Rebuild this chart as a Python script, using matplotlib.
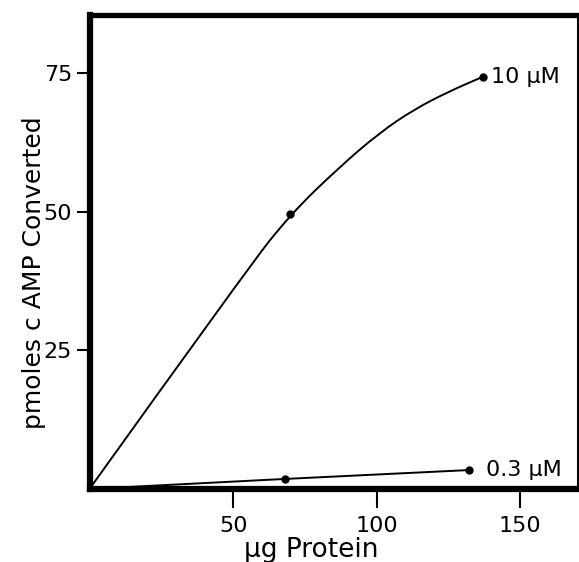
import matplotlib.pyplot as plt
from matplotlib.path import Path
from matplotlib.patches import PathPatch

# values
hi_x = [70, 137]              # measured points, 10 uM
hi_y = [49.5, 74.3]
hi_curve_x = [0, 55, 70, 87, 101, 113, 125, 137]   # hand-drawn curve
hi_curve_y = [0, 39.7, 49.5, 58.0, 64.2, 68.4, 71.6, 74.3]
lo_x = [0, 68, 132]           # 0.3 uM
lo_y = [0, 1.8, 3.4]
hi_label = "10 µM"
lo_label = "0.3 µM"
x_ticks = [50, 100, 150]
y_ticks = [25, 50, 75]

plt.rcParams['font.family'] = ['DejaVu Sans']

fig = plt.figure(figsize=(5.79, 5.62), dpi=100)
ax = fig.add_axes([0.1546, 0.13, 0.843, 0.843])

# smooth the traced curve: traced points act as quadratic bezier control points
pts = list(zip(hi_curve_x, hi_curve_y))
verts = [pts[0]]
codes = [Path.MOVETO]
for i in range(1, len(pts) - 1):
    mid = ((pts[i][0] + pts[i + 1][0]) / 2, (pts[i][1] + pts[i + 1][1]) / 2)
    verts += [pts[i], mid]
    codes += [Path.CURVE3, Path.CURVE3]
verts.append(pts[-1])
codes.append(Path.LINETO)
ax.add_patch(PathPatch(Path(verts, codes), fill=False, lw=1.4, edgecolor='black'))
ax.plot(hi_x, hi_y, 'o', color='black', ms=5)

ax.plot(lo_x, lo_y, color='black', lw=1.4)
ax.plot(lo_x[1:], lo_y[1:], 'o', color='black', ms=5)

ax.text(hi_x[-1] + 3, hi_y[-1], hi_label, fontsize=16, va='center', ha='left')
ax.text(lo_x[-1] + 6, lo_y[-1], lo_label, fontsize=16, va='center', ha='left')

ax.set_xlim(0, 170)
ax.set_ylim(0, 85.4)
ax.set_xticks(x_ticks)
ax.set_yticks(y_ticks)
ax.tick_params(axis='x', direction='out', length=13.5, width=1.5, labelsize=16, pad=6)
ax.tick_params(axis='y', direction='out', length=9.5, width=1.5, labelsize=16, pad=3)

for side, w in [('left', 4.5), ('bottom', 4.5), ('top', 3.8), ('right', 2.2)]:
    ax.spines[side].set_linewidth(w)

ax.set_xlabel("µg Protein", fontsize=19, labelpad=0.5)
ax.xaxis.label.set_x(0.455)
ax.set_ylabel("pmoles c AMP Converted", fontsize=18, labelpad=-2)
ax.yaxis.label.set_y(0.456)

fig.savefig("out.png", dpi=100)
